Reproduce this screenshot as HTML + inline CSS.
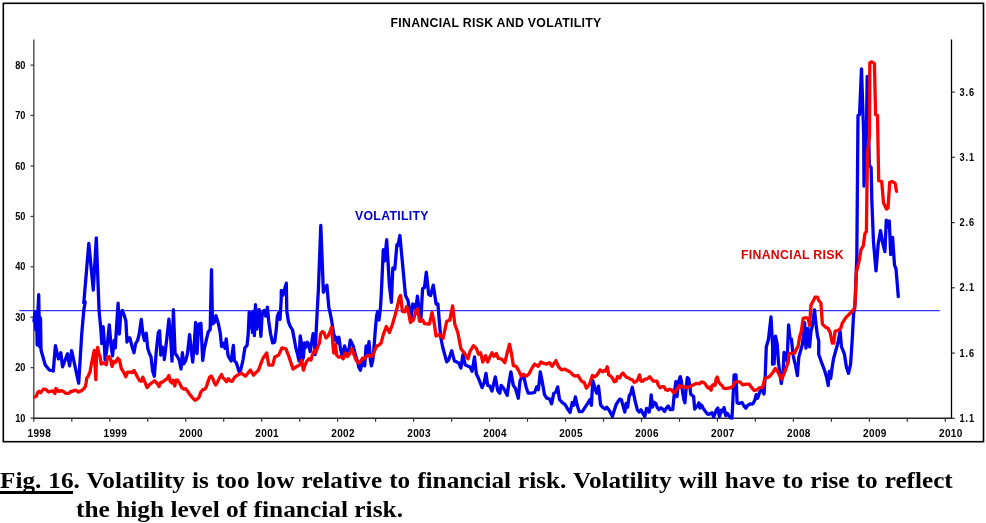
<!DOCTYPE html>
<html><head><meta charset="utf-8"><style>
html,body{margin:0;padding:0;background:#fff;}
body{width:986px;height:523px;overflow:hidden;position:relative;}
svg{position:absolute;left:0;top:0;}
.ax{font-family:"Liberation Sans",Arial,sans-serif;font-size:10px;font-weight:bold;fill:#000;}
.ti{font-family:"Liberation Sans",Arial,sans-serif;font-size:12.3px;letter-spacing:0.29px;font-weight:bold;}
.cap{position:absolute;left:0;font-family:"Liberation Serif","Times New Roman",serif;font-weight:bold;font-size:24px;color:#000;white-space:nowrap;line-height:28px;transform:scaleX(1.05);transform-origin:0 0;}
.u{text-decoration:underline;text-decoration-thickness:3px;text-underline-offset:4px;}
</style></head><body>
<svg width="986" height="523" viewBox="0 0 986 523">
<rect x="3.3" y="3.3" width="980.2" height="438.4" fill="none" stroke="#000" stroke-width="1.6"/>
<line x1="33.8" y1="39.5" x2="33.8" y2="418.9" stroke="#555" stroke-width="1.5"/>
<line x1="951.5" y1="39.5" x2="951.5" y2="418.9" stroke="#000" stroke-width="1.3"/>
<line x1="33.099999999999994" y1="418.2" x2="952.2" y2="418.2" stroke="#222" stroke-width="1.5"/>
<line x1="30.5" y1="418.1" x2="33.8" y2="418.1" stroke="#333" stroke-width="1.2"/>
<text transform="translate(25.4,421.6) scale(0.92,1)" text-anchor="end" class="ax">10</text>
<line x1="30.5" y1="367.7" x2="33.8" y2="367.7" stroke="#333" stroke-width="1.2"/>
<text transform="translate(25.4,371.2) scale(0.92,1)" text-anchor="end" class="ax">20</text>
<line x1="30.5" y1="317.2" x2="33.8" y2="317.2" stroke="#333" stroke-width="1.2"/>
<text transform="translate(25.4,320.7) scale(0.92,1)" text-anchor="end" class="ax">30</text>
<line x1="30.5" y1="266.8" x2="33.8" y2="266.8" stroke="#333" stroke-width="1.2"/>
<text transform="translate(25.4,270.3) scale(0.92,1)" text-anchor="end" class="ax">40</text>
<line x1="30.5" y1="216.4" x2="33.8" y2="216.4" stroke="#333" stroke-width="1.2"/>
<text transform="translate(25.4,219.9) scale(0.92,1)" text-anchor="end" class="ax">50</text>
<line x1="30.5" y1="166.0" x2="33.8" y2="166.0" stroke="#333" stroke-width="1.2"/>
<text transform="translate(25.4,169.5) scale(0.92,1)" text-anchor="end" class="ax">60</text>
<line x1="30.5" y1="115.5" x2="33.8" y2="115.5" stroke="#333" stroke-width="1.2"/>
<text transform="translate(25.4,119.0) scale(0.92,1)" text-anchor="end" class="ax">70</text>
<line x1="30.5" y1="65.1" x2="33.8" y2="65.1" stroke="#333" stroke-width="1.2"/>
<text transform="translate(25.4,68.6) scale(0.92,1)" text-anchor="end" class="ax">80</text>
<line x1="951.5" y1="418.3" x2="954.8" y2="418.3" stroke="#333" stroke-width="1.2"/>
<text transform="translate(959.6,421.8) scale(0.92,1)" class="ax" letter-spacing="0.9">1.1</text>
<line x1="951.5" y1="353.1" x2="954.8" y2="353.1" stroke="#333" stroke-width="1.2"/>
<text transform="translate(959.6,356.6) scale(0.92,1)" class="ax" letter-spacing="0.9">1.6</text>
<line x1="951.5" y1="287.8" x2="954.8" y2="287.8" stroke="#333" stroke-width="1.2"/>
<text transform="translate(959.6,291.3) scale(0.92,1)" class="ax" letter-spacing="0.9">2.1</text>
<line x1="951.5" y1="222.6" x2="954.8" y2="222.6" stroke="#333" stroke-width="1.2"/>
<text transform="translate(959.6,226.1) scale(0.92,1)" class="ax" letter-spacing="0.9">2.6</text>
<line x1="951.5" y1="157.3" x2="954.8" y2="157.3" stroke="#333" stroke-width="1.2"/>
<text transform="translate(959.6,160.8) scale(0.92,1)" class="ax" letter-spacing="0.9">3.1</text>
<line x1="951.5" y1="92.1" x2="954.8" y2="92.1" stroke="#333" stroke-width="1.2"/>
<text transform="translate(959.6,95.6) scale(0.92,1)" class="ax" letter-spacing="0.9">3.6</text>
<line x1="33.8" y1="418.2" x2="33.8" y2="421.8" stroke="#333" stroke-width="1.2"/>
<line x1="71.8" y1="418.2" x2="71.8" y2="421.8" stroke="#333" stroke-width="1.2"/>
<line x1="109.8" y1="418.2" x2="109.8" y2="421.8" stroke="#333" stroke-width="1.2"/>
<line x1="147.7" y1="418.2" x2="147.7" y2="421.8" stroke="#333" stroke-width="1.2"/>
<line x1="185.7" y1="418.2" x2="185.7" y2="421.8" stroke="#333" stroke-width="1.2"/>
<line x1="223.7" y1="418.2" x2="223.7" y2="421.8" stroke="#333" stroke-width="1.2"/>
<line x1="261.7" y1="418.2" x2="261.7" y2="421.8" stroke="#333" stroke-width="1.2"/>
<line x1="299.7" y1="418.2" x2="299.7" y2="421.8" stroke="#333" stroke-width="1.2"/>
<line x1="337.6" y1="418.2" x2="337.6" y2="421.8" stroke="#333" stroke-width="1.2"/>
<line x1="375.6" y1="418.2" x2="375.6" y2="421.8" stroke="#333" stroke-width="1.2"/>
<line x1="413.6" y1="418.2" x2="413.6" y2="421.8" stroke="#333" stroke-width="1.2"/>
<line x1="451.6" y1="418.2" x2="451.6" y2="421.8" stroke="#333" stroke-width="1.2"/>
<line x1="489.6" y1="418.2" x2="489.6" y2="421.8" stroke="#333" stroke-width="1.2"/>
<line x1="527.5" y1="418.2" x2="527.5" y2="421.8" stroke="#333" stroke-width="1.2"/>
<line x1="565.5" y1="418.2" x2="565.5" y2="421.8" stroke="#333" stroke-width="1.2"/>
<line x1="603.5" y1="418.2" x2="603.5" y2="421.8" stroke="#333" stroke-width="1.2"/>
<line x1="641.5" y1="418.2" x2="641.5" y2="421.8" stroke="#333" stroke-width="1.2"/>
<line x1="679.5" y1="418.2" x2="679.5" y2="421.8" stroke="#333" stroke-width="1.2"/>
<line x1="717.4" y1="418.2" x2="717.4" y2="421.8" stroke="#333" stroke-width="1.2"/>
<line x1="755.4" y1="418.2" x2="755.4" y2="421.8" stroke="#333" stroke-width="1.2"/>
<line x1="793.4" y1="418.2" x2="793.4" y2="421.8" stroke="#333" stroke-width="1.2"/>
<line x1="831.4" y1="418.2" x2="831.4" y2="421.8" stroke="#333" stroke-width="1.2"/>
<line x1="869.4" y1="418.2" x2="869.4" y2="421.8" stroke="#333" stroke-width="1.2"/>
<line x1="907.3" y1="418.2" x2="907.3" y2="421.8" stroke="#333" stroke-width="1.2"/>
<line x1="945.3" y1="418.2" x2="945.3" y2="421.8" stroke="#333" stroke-width="1.2"/>
<text x="39.3" y="436.8" text-anchor="middle" class="ax" letter-spacing="0.35">1998</text>
<text x="115.3" y="436.8" text-anchor="middle" class="ax" letter-spacing="0.35">1999</text>
<text x="191.2" y="436.8" text-anchor="middle" class="ax" letter-spacing="0.35">2000</text>
<text x="267.2" y="436.8" text-anchor="middle" class="ax" letter-spacing="0.35">2001</text>
<text x="343.1" y="436.8" text-anchor="middle" class="ax" letter-spacing="0.35">2002</text>
<text x="419.1" y="436.8" text-anchor="middle" class="ax" letter-spacing="0.35">2003</text>
<text x="495.1" y="436.8" text-anchor="middle" class="ax" letter-spacing="0.35">2004</text>
<text x="571.0" y="436.8" text-anchor="middle" class="ax" letter-spacing="0.35">2005</text>
<text x="647.0" y="436.8" text-anchor="middle" class="ax" letter-spacing="0.35">2006</text>
<text x="722.9" y="436.8" text-anchor="middle" class="ax" letter-spacing="0.35">2007</text>
<text x="798.9" y="436.8" text-anchor="middle" class="ax" letter-spacing="0.35">2008</text>
<text x="874.9" y="436.8" text-anchor="middle" class="ax" letter-spacing="0.35">2009</text>
<text x="950.8" y="436.8" text-anchor="middle" class="ax" letter-spacing="0.35">2010</text>
<line x1="19.2" y1="310.6" x2="939.8" y2="310.6" stroke="#3535ff" stroke-width="1.1"/>
<polyline points="34.0,321.0 35.0,312.0 35.8,330.0 36.5,313.0 37.2,345.0 38.0,310.0 38.7,294.7 39.4,330.0 39.8,347.0 40.5,318.0 41.0,349.0 41.2,350.7 45.2,364.9 49.3,370.0 53.3,371.0 55.4,345.6 58.4,358.8 60.8,352.7 62.5,366.9 67.5,353.8 69.6,365.9 71.6,350.7 78.7,383.2 81.7,334.5 83.8,310.1 85.2,302.0 83.8,303.0 88.8,243.3 93.3,290.0 96.3,237.8 99.1,311.2 100.7,327.5 101.8,343.7 103.1,326.7 103.9,335.6 105.1,360.0 106.7,350.2 109.3,325.0 110.9,343.7 112.5,355.9 114.2,340.5 115.3,347.8 116.9,321.0 118.1,303.1 119.4,334.0 120.7,314.5 122.3,310.4 124.2,315.3 125.9,321.0 127.0,342.1 128.3,338.0 129.9,338.0 131.5,344.5 134.0,352.7 135.6,343.7 137.6,340.5 139.2,334.0 141.3,319.4 142.9,334.0 144.5,340.5 146.2,333.2 147.8,348.6 149.4,353.5 151.0,356.7 152.7,371.3 154.3,376.2 156.4,350.2 158.3,332.4 159.6,330.7 160.8,355.1 162.4,347.0 164.0,353.5 164.3,359.5 166.9,338.0 168.9,319.1 170.7,338.0 172.0,361.2 173.4,309.6 175.1,353.5 177.2,356.1 179.3,360.4 181.0,369.0 182.4,352.6 183.7,363.8 185.8,360.4 187.5,353.5 189.6,334.6 191.3,350.0 192.7,362.1 194.1,346.6 195.6,322.5 197.0,353.5 198.7,324.2 200.9,323.4 202.7,360.4 204.4,348.3 206.4,339.7 208.2,332.0 210.2,329.4 211.5,269.7 212.5,324.2 214.2,322.5 215.9,315.6 218.5,324.2 220.2,332.8 221.6,346.6 223.7,343.2 225.0,348.3 226.2,338.9 228.0,355.2 229.7,358.7 231.1,361.0 232.3,353.0 233.4,345.5 234.4,361.0 235.7,362.0 236.5,363.2 238.9,371.3 240.6,370.5 243.0,360.0 244.9,347.8 247.1,345.3 248.2,334.0 249.2,312.1 250.3,327.5 251.4,312.9 252.4,332.4 253.6,311.2 254.4,335.6 255.5,304.7 256.8,329.1 257.9,316.1 259.2,309.6 260.9,336.4 262.2,312.9 264.1,310.4 265.7,316.1 267.4,307.2 268.7,321.0 270.6,334.0 272.6,342.9 274.7,342.1 276.3,329.1 277.4,316.1 278.7,312.9 280.0,319.4 281.2,299.9 281.3,290.3 282.9,295.3 286.3,283.2 286.8,311.2 288.5,321.8 290.4,326.7 292.5,329.9 294.2,338.9 295.8,347.8 297.4,353.5 299.0,360.8 298.0,350.2 299.1,360.2 300.2,335.8 301.2,341.6 302.3,360.2 303.4,357.3 304.5,343.0 305.9,347.3 307.3,342.3 308.8,344.4 310.2,351.6 311.6,343.0 313.1,333.7 314.1,335.8 315.2,354.5 316.3,328.7 318.4,289.2 320.8,225.4 323.4,292.3 326.9,285.2 328.8,307.2 329.8,311.5 331.3,318.6 332.4,325.8 333.8,334.4 335.0,340.1 336.0,337.3 337.4,343.0 338.9,337.3 340.3,347.3 341.7,354.5 343.2,351.6 344.6,345.9 346.0,350.2 347.5,354.5 349.3,347.3 350.3,340.1 351.8,343.0 353.2,345.9 354.6,351.6 356.1,357.3 357.5,361.6 358.9,367.4 360.4,370.2 361.8,364.5 363.2,360.2 364.7,365.9 366.1,345.9 367.5,354.5 369.0,341.6 370.4,360.2 371.4,365.9 372.8,360.2 374.0,347.3 375.4,328.7 376.6,315.8 377.6,311.5 379.0,320.1 380.4,308.6 381.3,294.1 383.3,249.7 384.7,260.9 386.7,239.6 389.4,285.2 391.4,302.4 392.8,268.0 394.8,269.0 396.9,244.6 397.9,245.6 399.9,235.5 405.5,295.5 408.0,300.4 411.0,318.7 412.8,304.0 414.7,305.3 415.9,308.9 417.4,296.1 419.0,308.9 420.8,321.2 422.6,288.7 424.5,287.5 426.3,272.2 428.7,294.3 430.6,295.5 433.3,285.1 436.1,304.0 437.9,304.0 440.6,336.5 442.6,346.7 446.7,361.9 448.7,359.8 451.7,350.7 454.4,360.9 456.8,361.9 458.8,362.9 460.9,368.0 462.9,354.8 465.3,364.9 470.0,367.0 472.1,371.2 474.5,357.0 476.4,374.1 478.5,378.3 482.1,387.6 484.2,382.6 486.0,373.4 487.7,385.4 489.9,386.1 492.0,391.1 495.3,376.9 497.7,390.4 499.8,393.2 501.2,385.4 504.1,389.0 507.2,395.4 509.0,382.6 510.9,371.9 513.3,385.4 515.4,388.3 518.3,398.2 520.0,381.2 521.8,376.9 524.0,377.6 526.1,386.9 528.2,393.2 531.1,393.2 534.6,392.5 536.7,386.9 538.4,389.7 540.3,371.9 542.4,382.6 544.5,394.7 546.7,398.2 549.5,398.9 551.6,403.9 553.8,393.2 555.6,392.5 557.7,386.9 559.5,399.6 562.3,402.5 565.1,404.6 568.0,409.6 570.1,412.4 572.2,402.5 573.6,405.3 575.4,396.8 577.2,405.3 579.3,411.7 582.2,411.7 585.0,407.4 587.8,403.2 590.0,399.6 591.4,405.3 592.8,380.5 594.9,388.3 596.7,393.2 598.5,386.1 600.6,404.7 602.5,407.2 605.0,409.0 606.8,407.2 608.7,409.7 610.6,412.8 612.4,416.5 614.3,410.3 616.1,404.7 618.0,401.6 619.9,399.1 621.4,399.7 623.0,405.9 624.8,412.1 626.1,403.4 627.6,407.2 629.2,396.0 630.8,393.5 632.3,387.3 633.8,394.8 635.4,402.2 637.3,409.7 639.1,412.1 641.0,409.7 642.9,413.4 644.7,416.5 646.6,408.4 647.8,409.7 649.1,412.1 650.3,405.9 651.2,394.8 652.4,407.2 654.0,402.2 655.7,403.4 657.1,407.2 659.0,409.7 660.9,407.8 662.7,409.0 664.6,411.5 666.5,407.8 668.3,405.9 670.2,409.7 672.7,409.7 674.2,394.8 675.8,381.7 677.0,396.6 678.5,381.7 680.3,376.6 681.4,380.8 682.6,392.3 683.9,399.7 684.9,402.8 686.3,386.0 687.3,377.6 688.7,378.7 689.8,386.0 690.8,394.4 692.3,395.5 693.6,396.5 694.7,409.1 696.3,407.0 697.5,406.0 698.9,402.8 700.0,408.1 701.0,404.9 702.1,406.0 703.6,409.1 705.7,411.8 707.3,413.9 708.9,414.4 710.5,413.3 712.0,412.8 713.6,417.0 714.7,414.4 716.2,410.2 717.8,408.1 719.4,416.5 721.3,410.2 722.6,411.8 724.1,407.6 725.7,415.5 727.3,413.3 728.7,415.5 730.4,417.6 732.0,418.1 733.6,386.0 734.1,375.0 736.0,375.0 737.1,402.8 739.4,403.4 742.0,402.5 744.1,406.1 745.8,408.2 747.7,405.4 749.8,404.0 752.7,404.0 754.8,400.4 756.2,394.7 757.6,398.3 759.8,391.9 761.9,389.0 764.0,394.0 765.2,377.0 766.3,346.8 768.4,339.7 771.0,317.0 772.7,346.8 772.5,364.2 774.1,363.8 775.5,336.1 777.2,344.0 778.6,363.8 781.3,383.4 783.2,371.3 784.0,352.5 785.4,353.9 787.1,361.0 788.6,324.8 790.0,338.3 791.4,339.0 793.2,355.3 794.7,362.4 795.3,364.2 797.4,375.6 798.8,357.1 802.5,344.0 804.6,322.7 806.0,348.2 807.9,328.3 809.6,346.8 811.0,331.2 812.4,325.5 814.5,309.9 816.0,324.1 817.4,335.4 818.8,341.1 818.7,354.3 822.2,364.2 824.4,369.9 826.5,377.0 828.2,385.5 829.3,371.3 830.7,378.4 832.2,367.0 833.6,358.5 838.0,342.5 840.1,331.2 841.5,346.8 844.4,353.9 846.4,367.0 848.5,373.4 850.6,364.2 852.2,339.7 853.6,314.1 855.0,304.2 856.8,257.4 858.0,115.5 859.5,114.7 861.5,68.8 863.7,135.0 864.0,186.0 866.4,135.0 867.2,76.4 868.3,77.2 868.7,135.0 869.3,165.5 871.1,167.3 871.6,188.6 871.8,200.0 873.5,242.1 876.0,270.8 878.2,244.0 880.5,230.6 882.5,242.1 884.9,251.6 886.3,220.1 887.8,226.8 889.3,221.0 890.7,254.5 892.6,237.3 894.5,265.0 896.0,268.8 898.3,296.6" fill="none" stroke="#0000ee" stroke-width="3.3" stroke-linejoin="round" stroke-linecap="round"/>
<polyline points="34.6,397.0 36.4,396.3 37.5,392.7 38.9,391.3 40.6,392.7 41.7,391.3 43.5,389.2 45.3,389.2 47.0,390.6 48.8,392.0 50.6,391.3 52.7,390.9 54.1,392.4 55.0,393.4 55.9,388.5 57.3,389.5 58.4,391.3 59.8,391.3 61.2,390.6 62.7,391.3 64.1,392.0 65.5,393.1 66.9,393.4 68.7,393.1 69.8,392.7 70.8,391.3 72.6,391.3 74.0,390.6 75.4,390.2 76.9,390.9 78.3,392.0 79.7,391.3 81.1,390.9 82.5,389.9 84.0,388.5 85.4,386.3 86.1,382.8 86.8,377.8 88.2,376.4 88.9,374.3 90.3,371.4 90.3,369.8 92.6,358.3 94.3,350.3 95.8,379.6 96.6,354.9 97.7,347.5 98.9,353.8 100.0,356.1 101.2,364.1 102.9,362.9 104.6,363.5 106.3,364.7 107.5,357.2 109.2,356.6 110.4,358.9 112.1,366.4 113.8,361.2 115.5,362.4 117.8,358.3 119.5,360.1 121.3,368.7 123.6,372.1 125.8,376.7 127.6,372.1 129.9,372.1 132.2,372.7 133.9,370.4 135.6,373.3 137.3,376.7 139.6,380.7 141.3,381.3 142.8,377.3 144.8,381.9 147.1,387.6 149.4,384.7 151.6,383.0 154.5,380.7 156.8,383.0 157.1,383.4 159.0,386.5 160.8,382.3 162.9,381.8 165.0,380.2 167.1,378.7 168.9,375.5 170.2,381.3 171.8,382.9 173.1,380.2 174.8,386.0 176.0,380.2 177.6,380.2 179.7,383.4 181.8,387.6 183.9,389.2 185.5,388.6 187.6,391.3 189.7,394.4 192.3,397.6 195.0,400.2 197.1,399.2 199.2,397.1 200.7,392.3 202.8,389.7 204.9,389.2 206.5,386.5 208.1,381.3 209.7,377.1 211.3,376.0 212.8,378.7 214.4,382.9 215.8,385.0 217.6,381.8 219.7,377.6 221.5,374.5 222.8,377.6 224.4,379.2 226.5,381.8 228.1,378.7 230.2,380.8 232.3,381.3 234.4,377.6 237.2,375.2 241.3,373.2 245.4,376.2 250.4,370.1 253.5,375.2 258.5,370.1 262.6,359.0 266.7,352.9 268.7,365.1 272.7,365.1 274.8,356.9 278.8,354.9 281.9,347.8 285.9,348.8 289.0,356.9 293.0,369.1 297.1,366.1 298.0,365.9 300.2,364.5 301.6,360.2 303.4,370.2 304.9,365.2 306.6,361.6 308.8,358.8 310.9,360.2 312.3,355.2 314.5,350.2 315.9,352.3 318.1,345.9 319.5,343.0 320.6,333.7 322.4,331.5 324.1,333.0 326.0,338.0 328.1,335.8 330.3,330.8 331.7,327.2 333.1,347.3 333.8,353.0 335.3,344.4 336.7,355.2 338.9,357.3 341.0,356.6 343.2,358.8 345.3,353.0 347.5,356.6 349.6,353.8 351.8,348.7 353.9,354.5 356.1,360.2 358.2,363.1 360.4,361.6 362.5,358.1 364.7,358.8 366.8,355.9 369.0,355.2 371.1,356.6 373.3,354.5 375.4,348.7 376.8,345.9 379.0,345.2 381.1,343.0 383.3,334.6 386.3,326.5 389.4,332.6 392.4,324.5 396.5,310.3 399.5,297.1 400.6,295.5 402.4,311.4 404.9,312.0 406.7,306.5 408.6,312.6 410.4,322.4 413.5,319.9 415.9,311.4 417.7,308.9 419.6,321.2 422.6,319.9 424.5,323.6 429.4,324.0 432.0,312.6 434.3,323.6 436.0,336.0 439.6,334.5 443.0,338.5 446.7,321.3 449.7,320.3 452.6,305.9 454.8,324.3 457.8,332.5 460.9,348.7 464.9,353.8 468.0,358.8 470.0,351.4 473.5,345.7 476.4,348.5 478.5,354.2 480.6,352.8 482.8,362.0 485.6,355.6 487.7,362.0 489.9,357.0 492.0,352.8 494.1,356.3 496.3,353.5 498.4,358.5 501.9,359.2 504.8,362.7 507.6,351.4 509.5,344.3 511.5,353.5 513.3,365.6 516.1,366.3 519.0,371.2 521.1,376.2 523.2,374.1 526.1,376.2 528.9,374.1 531.8,368.4 534.6,364.1 538.2,366.3 541.0,362.0 543.8,363.4 546.7,364.1 549.5,362.7 552.1,366.3 555.9,360.6 558.7,367.0 561.6,369.8 564.4,369.1 567.3,370.5 570.1,371.9 572.9,374.8 575.1,376.2 577.9,375.5 581.5,381.2 584.3,382.6 586.4,388.3 589.3,384.7 592.4,375.5 594.9,376.9 597.1,374.8 599.9,370.5 600.0,369.9 602.5,371.8 604.3,370.5 605.6,371.1 607.2,366.8 608.7,374.9 610.6,376.1 612.4,378.0 614.3,381.7 616.1,381.1 617.4,376.7 619.6,378.0 621.1,374.9 623.0,373.0 624.8,375.5 626.7,377.4 628.6,378.0 630.4,379.2 632.3,379.8 634.2,382.3 636.0,381.7 637.9,379.2 639.5,374.9 641.0,381.1 642.9,381.1 644.7,379.2 646.6,379.2 648.4,378.0 649.7,376.7 651.6,379.2 653.4,381.1 655.3,381.1 656.9,381.1 658.4,385.4 660.2,387.9 662.1,386.7 664.0,386.7 665.8,389.8 667.7,390.4 669.6,389.2 671.4,389.8 673.3,392.3 674.5,392.9 677.0,389.2 679.5,385.4 680.5,387.6 682.6,386.5 684.7,387.1 686.8,387.6 688.9,387.1 691.0,386.0 693.1,385.0 695.2,383.9 697.3,383.4 699.4,383.9 701.5,381.8 703.6,382.3 705.2,383.9 706.8,386.5 708.4,388.1 709.7,387.1 711.0,390.2 712.3,385.5 713.6,384.4 715.0,385.5 716.2,378.7 717.3,377.1 718.6,381.8 720.2,383.9 722.0,385.5 723.6,388.1 725.7,388.6 728.3,388.1 731.0,387.6 733.1,386.0 734.6,382.3 737.3,381.8 740.0,381.8 742.7,384.8 746.3,384.1 749.1,384.1 751.2,386.9 754.1,390.5 756.9,389.8 759.8,387.6 762.6,387.6 764.7,378.4 767.6,377.7 770.4,375.6 773.2,372.0 775.4,368.5 777.5,371.3 779.6,375.6 781.8,379.1 783.9,374.1 786.0,368.5 788.2,362.1 789.0,353.9 791.1,353.2 794.7,353.2 796.1,349.6 798.2,346.1 799.6,336.9 801.1,331.9 803.2,318.4 806.0,317.7 808.2,318.4 809.6,325.5 811.0,304.9 813.1,301.4 815.0,297.1 817.4,297.1 818.8,300.6 820.9,302.8 822.4,324.1 825.2,326.9 828.0,328.3 830.2,332.6 832.3,343.2 833.7,343.2 835.1,331.2 838.0,330.5 840.8,328.3 842.2,323.4 845.8,317.7 849.3,314.1 854.7,308.5 855.7,290.0 856.3,272.7 859.1,261.2 861.0,249.7 863.3,245.9 864.9,233.5 866.4,231.6 866.8,200.0 867.5,153.1 869.5,135.0 869.8,62.7 871.8,61.9 874.4,63.4 875.6,114.7 877.5,115.5 878.7,180.6 881.7,181.5 883.5,202.8 886.5,209.1 888.0,208.2 889.7,182.4 892.4,181.5 895.1,183.3 896.5,191.3" fill="none" stroke="#ff0000" stroke-width="3.3" stroke-linejoin="round" stroke-linecap="round"/>
<text x="496" y="26.8" text-anchor="middle" class="ti">FINANCIAL RISK AND VOLATILITY</text>
<text x="355" y="219.6" class="ti" fill="#0000cc">VOLATILITY</text>
<text x="741" y="258.6" class="ti" fill="#e00000">FINANCIAL RISK</text>
</svg>
<div style="position:absolute;left:0;top:491px;width:73px;height:3px;background:#000"></div>
<div class="cap" style="top:466px;left:0px;word-spacing:0.73px">Fig. 16. Volatility is too low relative to financial risk. Volatility will have to rise to reflect</div>
<div class="cap" style="top:495px;left:76px;transform:scaleX(1.057)">the high level of financial risk.</div>
</body></html>
